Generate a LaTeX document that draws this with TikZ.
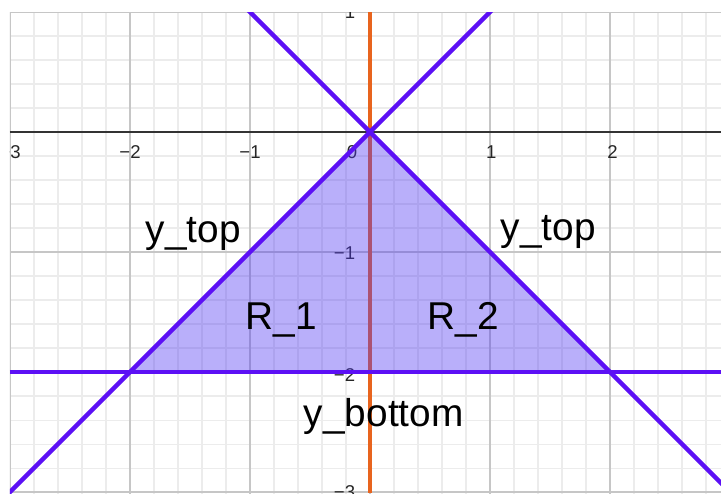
\documentclass[tikz,border=0pt]{standalone}
\usepackage{fontspec}
\setmainfont{Liberation Sans}
\definecolor{lineviolet}{RGB}{92,16,245}
\definecolor{fillviolet}{RGB}{80,55,242}
\definecolor{vorange}{RGB}{232,100,30}
\begin{document}
\begin{tikzpicture}[
  minorgrid/.style={draw=gray!15, line width=0.25pt},
  majorgrid/.style={draw=gray!45, line width=0.3pt},
  axisline/.style={draw=black!80, line width=0.5pt},
  ticklab/.style={font=\fontsize{4.4}{5}\selectfont, text=black!85, inner sep=0pt},
  curve/.style={draw=lineviolet, line width=1.05pt},
  vline/.style={draw=vorange, line width=0.8pt},
  region/.style={fill=fillviolet, fill opacity=0.4},
  biglab/.style={font=\fontsize{9.2}{11}\selectfont, inner sep=0pt, anchor=base west}
]
\useasboundingbox (-3.0833,-3.0083) rectangle (2.925,1.1);
\begin{scope}
\clip (-3,-3.0083) rectangle (2.925,1);
% grid
\draw[minorgrid] (-3,-3.2) grid[step=0.2] (3,1);
\draw[majorgrid] (-3,-4) grid[step=1] (3,1);
% axes
\coordinate (xl) at (-3,0);
\coordinate (xr) at (2.925,0);
\coordinate (yt) at (0,1);
\coordinate (yb) at (0,-3.0083);
\draw[axisline] (xl) -- (xr);
\draw[axisline] (yt) -- (yb);
% tick labels
\node[ticklab] (tx-3) at (-3,-0.167) {−3};
\node[ticklab] (tx-2) at (-2,-0.167) {−2};
\node[ticklab] (tx-1) at (-1,-0.167) {−1};
\node[ticklab] (tx0) at (-0.15,-0.167) {0};
\node[ticklab] (tx1) at (1.01,-0.167) {1};
\node[ticklab] (tx2) at (2.02,-0.167) {2};
\node[ticklab, anchor=east] (ty1) at (-0.117,1) {1};
\node[ticklab, anchor=east] (ty-1) at (-0.117,-1.01) {−1};
\node[ticklab, anchor=east] (ty-2) at (-0.117,-2.025) {−2};
\node[ticklab, anchor=east] (ty-3) at (-0.117,-3) {−3};
% vertical line x = 0
\draw[vline] (yt) -- (yb);
% shaded region
\coordinate (O) at (0,0);
\coordinate (A) at (-2,-2);
\coordinate (B) at (2,-2);
\fill[region] (O) -- (A) -- (B) -- cycle;
% boundary lines
\coordinate (p1) at (-3.1,-3.1);
\coordinate (p2) at (1.1,1.1);
\coordinate (q1) at (-1.1,1.1);
\coordinate (q2) at (3.1,-3.1);
\coordinate (h1) at (-3,-2);
\coordinate (h2) at (2.925,-2);
\draw[curve] (p1) -- (p2);
\draw[curve] (q1) -- (q2);
\draw[curve] (h1) -- (h2);
\end{scope}
% labels
\node[biglab] (ytopL) at (-1.875,-0.917) {y\_top};
\node[biglab] (ytopR) at (1.083,-0.9) {y\_top};
\node[biglab] (r1) at (-1.042,-1.642) {R\_1};
\node[biglab] (r2) at (0.475,-1.642) {R\_2};
\node[biglab] (ybot) at (-0.558,-2.458) {y\_bottom};
\end{tikzpicture}
\end{document}
